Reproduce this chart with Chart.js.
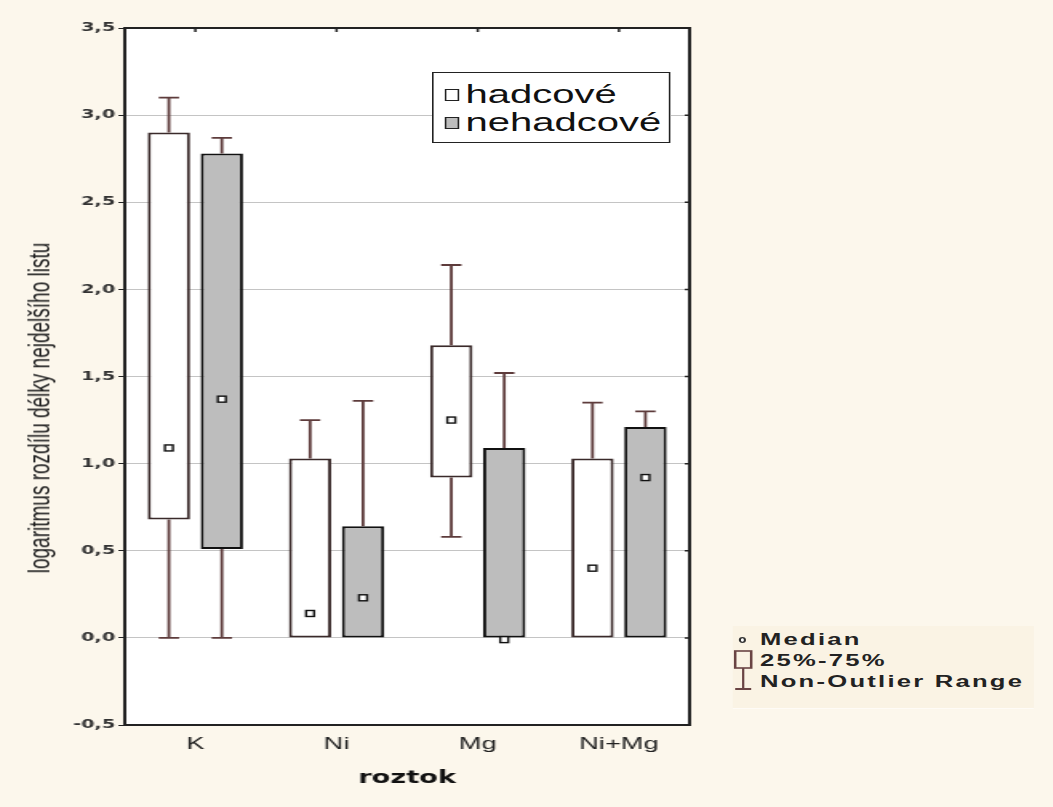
<!DOCTYPE html>
<html>
<head>
<meta charset="utf-8">
<script src="https://cdn.jsdelivr.net/npm/chart.js@4/dist/chart.umd.min.js"></script>
<style>
  body { margin: 0; background: #fcf7ec; overflow: hidden; }
  /* the original picture is stretched sideways, so the whole chart is drawn narrow and scaled */
  #wrap { position: relative; width: 658px; height: 807px; transform: scaleX(1.6); transform-origin: 0 0; }
  canvas { position: absolute; left: 0; top: 0; }
  .ytitle { position: absolute; left: 25px; top: 408px; transform: translate(-50%, -50%) rotate(-90deg);
            white-space: nowrap; font-family: Arial, "Liberation Sans", sans-serif; font-size: 19px; color: #222; }
  .leg1 { position: absolute; left: 270px; top: 72px; width: 147px; height: 69px; border: 1.5px solid #222; background: #fff;
          font-family: Arial, "Liberation Sans", sans-serif; font-size: 25px; color: #111; }
  .leg1 .row { position: absolute; left: 7px; height: 30px; line-height: 30px; white-space: nowrap; }
  .leg1 .sq { display: inline-block; width: 7px; height: 10px; border: 1.5px solid #222; margin-right: 4px; vertical-align: 2px; }
  .leg2 { position: absolute; left: 458px; top: 626px; width: 188px; height: 82px; background: #faf3e4;
          font-family: Arial, "Liberation Sans", sans-serif; font-size: 16px; font-weight: bold; color: #222; letter-spacing: 1.4px; }
  .leg2 .row { position: absolute; left: 17px; height: 20px; line-height: 20px; white-space: nowrap; }
  .leg2 svg { position: absolute; left: 0; top: 0; }
</style>
</head>
<body>
<div id="wrap">
  <canvas id="chart" width="658" height="807"></canvas>
  <div class="ytitle">logaritmus rozdílu délky nejdelšího listu</div>
  <div class="leg1">
    <div class="row" style="top:6px"><span class="sq" style="background:#fff"></span>hadcové</div>
    <div class="row" style="top:34px"><span class="sq" style="background:#bdbdbd"></span>nehadcové</div>
  </div>
  <div class="leg2">
    <svg width="16" height="82">
      <ellipse cx="6" cy="14" rx="1.6" ry="2.4" fill="#fff" stroke="#333" stroke-width="1.3"/>
      <rect x="1.5" y="25" width="10" height="17" fill="none" stroke="#6a4444" stroke-width="1.6"/>
      <line x1="6.5" y1="42" x2="6.5" y2="63" stroke="#6a4444" stroke-width="1.4"/>
      <line x1="1.5" y1="63" x2="11.5" y2="63" stroke="#6a4444" stroke-width="2"/>
    </svg>
    <div class="row" style="top:4px">Median</div>
    <div class="row" style="top:25px">25%-75%</div>
    <div class="row" style="top:46px">Non-Outlier Range</div>
  </div>
</div>
<script>
// data
const categories = ['K', 'Ni', 'Mg', 'Ni+Mg'];

const hadMin    = [0.00, 0.00, 0.58, 0.00];
const hadQ1     = [0.68, 0.00, 0.92, 0.00];
const hadMedian = [1.09, 0.14, 1.25, 0.40];
const hadQ3     = [2.90, 1.03, 1.68, 1.03];
const hadMax    = [3.10, 1.25, 2.14, 1.35];

const nehMin    = [0.00, 0.00, 0.00, 0.00];
const nehQ1     = [0.51, 0.00, 0.00, 0.00];
const nehMedian = [1.37, 0.23, -0.01, 0.92];
const nehQ3     = [2.78, 0.64, 1.09, 1.21];
const nehMax    = [2.87, 1.36, 1.52, 1.30];

const seriesNames = ['hadcové', 'nehadcové'];

const stats = [
  { min: hadMin, q1: hadQ1, med: hadMedian, q3: hadQ3, max: hadMax },
  { min: nehMin, q1: nehQ1, med: nehMedian, q3: nehQ3, max: nehMax }
];

// bile pozadi plochy grafu
const bgPlugin = {
  id: 'bg',
  beforeDraw(chart) {
    const { ctx, chartArea: a } = chart;
    ctx.save();
    ctx.fillStyle = '#ffffff';
    ctx.fillRect(a.left, a.top, a.right - a.left, a.bottom - a.top);
    ctx.restore();
  }
};

// whiskery, medianty a ramecek
const boxPlugin = {
  id: 'boxes',
  afterDatasetsDraw(chart) {
    const { ctx } = chart;
    const y = chart.scales.y;
    chart.data.datasets.forEach((ds, di) => {
      const meta = chart.getDatasetMeta(di);
      const s = stats[di];
      meta.data.forEach((bar, i) => {
        const cx = bar.x;
        const cap = bar.width * 0.24;
        ctx.save();
        ctx.strokeStyle = '#5e3c3c';
        ctx.lineWidth = 1.8;
        ctx.beginPath();
        if (s.max[i] > s.q3[i]) {
          ctx.moveTo(cx, y.getPixelForValue(s.q3[i]));
          ctx.lineTo(cx, y.getPixelForValue(s.max[i]));
          ctx.moveTo(cx - cap, y.getPixelForValue(s.max[i]));
          ctx.lineTo(cx + cap, y.getPixelForValue(s.max[i]));
        }
        if (s.min[i] < s.q1[i]) {
          ctx.moveTo(cx, y.getPixelForValue(s.q1[i]));
          ctx.lineTo(cx, y.getPixelForValue(s.min[i]));
          ctx.moveTo(cx - cap, y.getPixelForValue(s.min[i]));
          ctx.lineTo(cx + cap, y.getPixelForValue(s.min[i]));
        }
        ctx.stroke();
        const my = y.getPixelForValue(s.med[i]);
        ctx.fillStyle = '#ffffff';
        ctx.strokeStyle = '#111';
        ctx.lineWidth = 1.4;
        ctx.fillRect(cx - 2.5, my - 3, 5, 6);
        ctx.strokeRect(cx - 2.5, my - 3, 5, 6);
        ctx.restore();
      });
    });
  },
  afterDraw(chart) {
    const { ctx, chartArea: a } = chart;
    const x = chart.scales.x, y = chart.scales.y;
    ctx.save();
    ctx.strokeStyle = '#222';
    ctx.lineWidth = 2;
    ctx.strokeRect(a.left, a.top, a.right - a.left, a.bottom - a.top);
    ctx.lineWidth = 1.5;
    ctx.beginPath();
    categories.forEach((c, i) => {
      const px = x.getPixelForValue(i);
      ctx.moveTo(px, a.top);
      ctx.lineTo(px, a.top + 4);
    });
    y.ticks.forEach(t => {
      const py = y.getPixelForValue(t.value);
      ctx.moveTo(a.right, py);
      ctx.lineTo(a.right - 3, py);
    });
    ctx.stroke();
    ctx.restore();
  }
};

const ctx = document.getElementById('chart').getContext('2d');
new Chart(ctx, {
  type: 'bar',
  data: {
    labels: categories,
    datasets: [
      {
        label: seriesNames[0],
        data: hadQ1.map((v, i) => [v, hadQ3[i]]),
        backgroundColor: '#ffffff',
        borderColor: '#3a2a2a',
        borderWidth: 2,
        borderSkipped: false
      },
      {
        label: seriesNames[1],
        data: nehQ1.map((v, i) => [v, nehQ3[i]]),
        backgroundColor: '#bdbdbd',
        borderColor: '#111111',
        borderWidth: 2,
        borderSkipped: false
      }
    ]
  },
  options: {
    responsive: false,
    animation: false,
    layout: { padding: { left: 0, top: 28, right: 227, bottom: 0 } },
    datasets: { bar: { barPercentage: 0.8, categoryPercentage: 0.75 } },
    plugins: { legend: { display: false }, tooltip: { enabled: false } },
    scales: {
      x: {
        afterFit: s => { s.height = 82; },
        grid: { display: false, drawTicks: true, tickLength: 4, tickColor: '#222' },
        border: { display: false },
        ticks: {
          padding: 5,
          color: '#222',
          font: { family: 'Arial, "Liberation Sans", sans-serif', size: 17 }
        },
        title: {
          display: true,
          text: 'roztok',
          color: '#111',
          padding: { top: 4, bottom: 18 },
          font: { family: '"DejaVu Sans", sans-serif', size: 17, weight: 'bold' }
        }
      },
      y: {
        min: -0.5,
        max: 3.5,
        afterFit: s => { s.width = 78; },
        ticks: {
          stepSize: 0.5,
          padding: 2,
          color: '#333',
          font: { family: '"DejaVu Sans", sans-serif', size: 12, weight: 'bold' },
          callback: v => v.toFixed(1).replace('.', ',')
        },
        grid: {
          color: c => (c.tick && (c.tick.value === -0.5 || c.tick.value === 3.5)) ? 'rgba(0,0,0,0)' : '#c4c4c4',
          lineWidth: 1,
          borderDash: [1, 2],
          tickLength: 4,
          tickColor: '#222',
          tickBorderDash: []
        },
        border: { display: false },
        title: { display: false }
      }
    }
  },
  plugins: [bgPlugin, boxPlugin]
});
</script>
</body>
</html>
